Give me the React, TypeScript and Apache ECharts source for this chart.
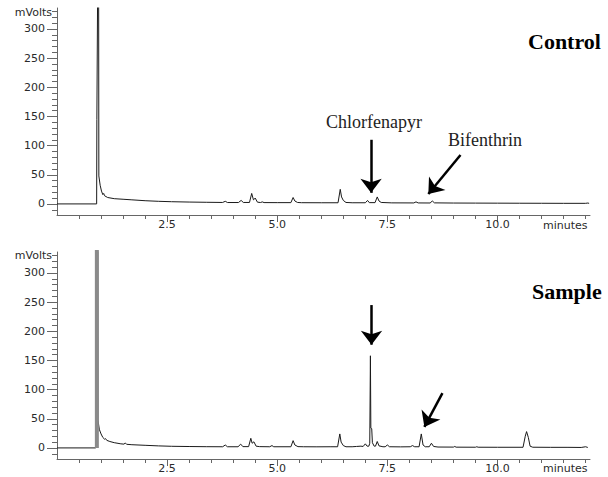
import React, { useEffect, useRef } from "react";
import * as echarts from "echarts";

// Chromatogram traces: [retention time (min), signal (mVolts)]
const controlSignal: [number, number][] = [
  [0, 0], [0.9, 0], [0.905, 145], [0.92, 145], [0.925, 400], [0.945, 400], [0.95, 48], [0.98, 32], [1.01, 22],
  [1.04, 16], [1.06, 18], [1.08, 14], [1.15, 11], [1.3, 9], [1.5, 8], [1.7, 7], [2.0, 5.5], [2.3, 4.5], [2.6, 3.8],
  [3.0, 3.2], [3.4, 2.8], [3.76, 2.5], [3.82, 4.5], [3.87, 2.4], [4.12, 2.4], [4.18, 6], [4.23, 2.5], [4.37, 2.5],
  [4.42, 18], [4.46, 7], [4.5, 10], [4.55, 3], [4.62, 2.4], [4.66, 3.5], [4.7, 2.3], [5.0, 2.2], [5.31, 2.2],
  [5.36, 11], [5.4, 5], [5.46, 2.5], [5.55, 2.1], [6.0, 2], [6.38, 2], [6.43, 25], [6.46, 12], [6.5, 6], [6.56, 2.5],
  [6.7, 2], [7.0, 2], [7.05, 6], [7.09, 2.2], [7.22, 2.2], [7.27, 12], [7.31, 5], [7.36, 2.5], [7.6, 1.8], [8.1, 1.7],
  [8.15, 3.5], [8.2, 1.7], [8.47, 1.6], [8.52, 5], [8.57, 1.8], [9.0, 1.5], [9.5, 1.4], [10.0, 1.3], [10.5, 1.2],
  [11.0, 1.1], [11.5, 1.0], [12.0, 1.0], [12.05, 1.5], [12.08, 1],
];

const sampleSignal: [number, number][] = [
  [0, 0], [0.88, 0], [0.885, 400], [0.925, 400], [0.93, 48], [0.96, 32], [1.0, 24], [1.04, 18], [1.08, 15], [1.1, 16],
  [1.13, 13], [1.2, 11], [1.3, 9], [1.45, 7], [1.52, 6.5], [1.55, 8.5], [1.58, 6.2], [1.7, 5.5], [2.0, 4.5], [2.3, 3.5],
  [2.6, 2.8], [3.0, 2.4], [3.4, 2.1], [3.76, 2], [3.82, 5], [3.87, 2], [4.11, 2], [4.17, 6.5], [4.22, 2.2], [4.35, 2.2],
  [4.4, 16.5], [4.43, 8], [4.47, 10.5], [4.52, 3], [4.6, 2.2], [4.83, 2], [4.88, 4], [4.92, 2], [5.31, 2], [5.36, 12.5],
  [5.4, 5], [5.47, 2.2], [5.6, 2], [5.9, 1.9], [6.2, 2], [6.37, 2], [6.42, 24], [6.45, 10], [6.5, 4], [6.56, 2], [6.7, 2],
  [6.8, 2.5], [6.9, 3], [6.95, 2.5], [7.0, 7], [7.04, 3], [7.08, 3], [7.1, 8], [7.115, 158], [7.125, 34], [7.145, 33],
  [7.16, 9], [7.2, 3], [7.23, 3], [7.27, 11], [7.31, 3.5], [7.4, 2], [7.45, 2], [7.5, 5], [7.55, 2], [7.8, 1.8], [8.02, 2],
  [8.07, 4], [8.12, 2], [8.22, 2], [8.27, 24], [8.31, 5], [8.36, 2], [8.45, 2], [8.5, 8], [8.55, 2.5], [8.65, 1.5],
  [9.0, 1.4], [9.03, 2.5], [9.06, 1.3], [9.5, 1.2], [9.53, 2], [9.56, 1.2], [10.0, 1.1], [10.58, 1.1], [10.63, 20],
  [10.66, 28], [10.7, 18], [10.74, 3], [10.8, 1.2], [11.2, 1], [11.6, 1], [11.9, 0.8], [12.0, 2], [12.05, 0.8],
];

// Solvent front (drawn as a wide grey band in the sample run)
const sampleSolvent: [number, number][] = [[0.905, 0], [0.905, 400]];

// Axis ticks
const yLabelValues = [0, 50, 100, 150, 200, 250, 300];
const yMinorValues = [-10, 0, 10, 20, 30, 40, 50, 60, 70, 80, 90, 100, 110, 120, 130, 140, 150, 160, 170, 180, 190, 200, 210, 220, 230, 240, 250, 260, 270, 280, 290, 300, 310, 320, 330];
const xLabelValues = [2.5, 5.0, 7.5, 10.0];
const xMinorValues = [0.5, 1, 1.5, 2, 2.5, 3, 3.5, 4, 4.5, 5, 5.5, 6, 6.5, 7, 7.5, 8, 8.5, 9, 9.5, 10, 10.5, 11, 11.5, 12];

// Arrow annotations: [start, tip] in (minutes, mVolts)
const controlArrows: [number, number][][] = [
  [[7.13, 110], [7.13, 19]],
  [[9.16, 84], [8.43, 17]],
];
const sampleArrows: [number, number][][] = [
  [[7.14, 245], [7.14, 177]],
  [[8.75, 94], [8.34, 36]],
];

const X_MIN = 0;
const X_MAX = 12.1;
const Y_MIN = -19;
const Y_MAX = 336;

const axisFont = { fontFamily: "DejaVu Sans", fontSize: 11, color: "#2a2a2a" };

function panel(g: number, top: number, data: [number, number][], arrows: [number, number][][], extra: any[]) {
  const grid = { left: 57, top, width: 533, height: 207 };
  const xAxes = [
    {
      gridIndex: g, type: "value", min: X_MIN, max: X_MAX, position: "bottom",
      axisLine: { onZero: false, lineStyle: { color: "#666", width: 1 } },
      axisTick: { show: true, length: 4, customValues: xMinorValues, lineStyle: { color: "#666" } },
      axisLabel: { ...axisFont, margin: 4, customValues: xLabelValues, formatter: (v: number) => v.toFixed(1) },
      splitLine: { show: false },
    },
    {
      gridIndex: g, type: "value", min: X_MIN, max: X_MAX, position: "bottom",
      axisLine: { show: false, onZero: false },
      axisTick: { show: true, length: 7, customValues: xLabelValues, lineStyle: { color: "#666" } },
      axisLabel: { show: false },
      splitLine: { show: false },
    },
  ];
  const yAxes = [
    {
      gridIndex: g, type: "value", min: Y_MIN, max: Y_MAX, position: "left",
      axisLine: { show: true, onZero: false, lineStyle: { color: "#666", width: 1 } },
      axisTick: { show: true, length: 10, customValues: yLabelValues, lineStyle: { color: "#666" } },
      axisLabel: { ...axisFont, margin: 12, customValues: yLabelValues },
      splitLine: { show: false },
    },
    {
      gridIndex: g, type: "value", min: Y_MIN, max: Y_MAX, position: "left",
      axisLine: { show: false, onZero: false },
      axisTick: { show: true, length: 5, customValues: yMinorValues, lineStyle: { color: "#666" } },
      axisLabel: { show: false },
      splitLine: { show: false },
    },
  ];
  const series: any[] = [
    {
      type: "line", xAxisIndex: g * 2, yAxisIndex: g * 2, data, showSymbol: false, symbol: "none",
      lineStyle: { color: "#1a1a1a", width: 1 }, clip: true, z: 3,
      markLine: {
        silent: true, symbol: ["none", "arrow"], symbolSize: [16, 14],
        lineStyle: { color: "#000", width: 2.5, type: "solid" }, label: { show: false },
        data: arrows.map((a) => [{ coord: a[0] }, { coord: a[1] }]),
      },
    },
    ...extra.map((d) => ({
      type: "line", xAxisIndex: g * 2, yAxisIndex: g * 2, data: d, showSymbol: false, symbol: "none",
      lineStyle: { color: "#8a8a8a", width: 4 }, clip: true, z: 4,
    })),
  ];
  return { grid, xAxes, yAxes, series };
}

export default function App() {
  const ref = useRef<HTMLDivElement>(null);
  useEffect(() => {
    if (!ref.current) return;
    const chart = echarts.init(ref.current, null, { renderer: "svg" });
    const p1 = panel(0, 8, controlSignal, controlArrows, []);
    const p2 = panel(1, 252, sampleSignal, sampleArrows, [sampleSolvent]);
    const unitText = (y: number) => ({
      type: "text", right: 608 - 52, top: y - 7,
      style: { text: "mVolts", fontFamily: "DejaVu Sans", fontSize: 11, fill: "#2a2a2a" },
    });
    const minutesText = (y: number) => ({
      type: "text", left: 543, top: y - 7,
      style: { text: "minutes", fontFamily: "DejaVu Sans", fontSize: 11, fill: "#2a2a2a" },
    });
    chart.setOption({
      animation: false,
      backgroundColor: "#fff",
      grid: [p1.grid, p2.grid],
      xAxis: [...p1.xAxes, ...p2.xAxes],
      yAxis: [...p1.yAxes, ...p2.yAxes],
      series: [...p1.series, ...p2.series],
      graphic: [
        unitText(14), unitText(257), minutesText(227), minutesText(470),
        { type: "text", left: 528, top: 30, style: { text: "Control", fontFamily: "Liberation Serif", fontWeight: "bold", fontSize: 22, fill: "#000" } },
        { type: "text", left: 532, top: 280, style: { text: "Sample", fontFamily: "Liberation Serif", fontWeight: "bold", fontSize: 22, fill: "#000" } },
        { type: "text", left: 326, top: 113, style: { text: "Chlorfenapyr", fontFamily: "Liberation Serif", fontSize: 18, fill: "#222" } },
        { type: "text", left: 448, top: 131, style: { text: "Bifenthrin", fontFamily: "Liberation Serif", fontSize: 18, fill: "#222" } },
      ],
    });
    return () => chart.dispose();
  }, []);
  return <div ref={ref} style={{ position: "absolute", left: 0, top: 0, width: 608, height: 477 }} />;
}
